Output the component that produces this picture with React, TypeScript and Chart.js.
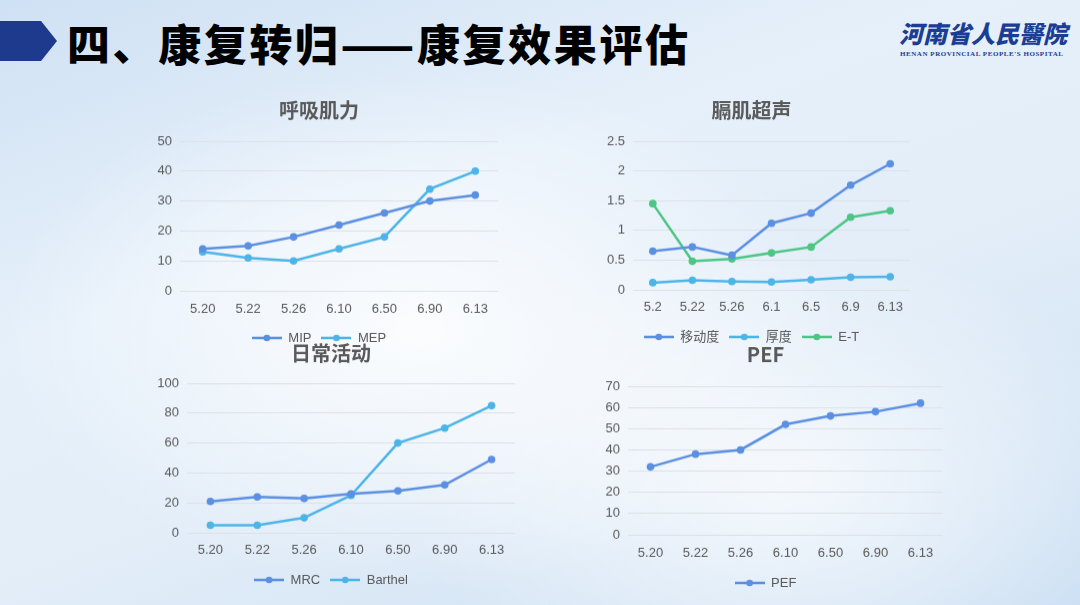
import React, { useEffect, useRef } from "react";
import { Chart, registerables } from "chart.js";

Chart.register(...registerables);

// ---------- data ----------
const datesA = ["5.20", "5.22", "5.26", "6.10", "6.50", "6.90", "6.13"];
const datesB = ["5.2", "5.22", "5.26", "6.1", "6.5", "6.9", "6.13"];

const mipValues = [14, 15, 18, 22, 26, 30, 32];
const mepValues = [13, 11, 10, 14, 18, 34, 40];

const mobilityValues = [0.65, 0.72, 0.58, 1.12, 1.29, 1.76, 2.12];
const thicknessValues = [0.12, 0.16, 0.14, 0.13, 0.17, 0.21, 0.22];
const etValues = [1.45, 0.48, 0.52, 0.62, 0.72, 1.22, 1.33];

const mrcValues = [21, 24, 23, 26, 28, 32, 49];
const barthelValues = [5, 5, 10, 25, 60, 70, 85];

const pefValues = [32, 38, 40, 52, 56, 58, 62];

// ---------- styles ----------
const BLUE = "#5b8fe2";
const CYAN = "#4db4e8";
const GREEN = "#4cc585";
const TEXT = "#595959";
const GRID = "#dde1e6";
const FONT = "'Liberation Sans', 'Noto Sans CJK SC', sans-serif";
const CJK = "'Noto Sans CJK SC', sans-serif";

type Series = { label: string; data: number[]; color: string };
type Spec = {
  title: string;
  labels: string[];
  series: Series[];
  yMax: number;
  yStep: number;
  area: { left: number; top: number; right: number; bottom: number };
  titleY: number;
  xLabelY: number;
  legendY: number;
};

function marker(color: string): HTMLCanvasElement {
  const c = document.createElement("canvas");
  c.width = 30;
  c.height = 10;
  const ctx = c.getContext("2d")!;
  ctx.strokeStyle = color;
  ctx.lineWidth = 2.5;
  ctx.beginPath();
  ctx.moveTo(0, 5);
  ctx.lineTo(30, 5);
  ctx.stroke();
  ctx.fillStyle = color;
  ctx.beginPath();
  ctx.arc(15, 5, 3.3, 0, Math.PI * 2);
  ctx.fill();
  return c;
}

const TITLE_SIZE = 20;

function LineChart({ spec }: { spec: Spec }) {
  const ref = useRef<HTMLCanvasElement>(null);
  const { area } = spec;
  const canvasLeft = area.left - 40;
  const canvasRight = area.right + 12;
  const canvasTop = spec.titleY - 20;
  const padTop = 20 - 0.6 * TITLE_SIZE;
  const padBottom = area.top - canvasTop - padTop - 1.2 * TITLE_SIZE;
  const xH = spec.legendY - area.bottom - 16.5;
  const xPad = spec.xLabelY - area.bottom - 7.8;
  const height = area.bottom - canvasTop + xH + 33;
  const width = canvasRight - canvasLeft;

  useEffect(() => {
    const markers = spec.series.map((s) => marker(s.color));
    const chart = new Chart(ref.current!, {
      type: "line",
      data: {
        labels: spec.labels,
        datasets: spec.series.map((s) => ({
          label: s.label,
          data: s.data,
          borderColor: s.color,
          backgroundColor: s.color,
          pointBackgroundColor: s.color,
          pointBorderColor: s.color,
          borderWidth: 2.5,
          pointRadius: 3.8,
          pointBorderWidth: 0,
          tension: 0,
        })),
      },
      options: {
        animation: false,
        responsive: true,
        maintainAspectRatio: false,
        layout: { padding: { left: 0, right: 12, top: 0, bottom: 0 } },
        plugins: {
          title: {
            display: true,
            text: spec.title,
            color: TEXT,
            font: { family: CJK, size: TITLE_SIZE, weight: "bold" },
            padding: { top: padTop, bottom: padBottom },
          },
          legend: {
            position: "bottom",
            labels: {
              usePointStyle: true,
              pointStyleWidth: 30,
              color: TEXT,
              padding: 10,
              font: { family: FONT, size: 13 },
              generateLabels: (c: any) => {
                const items = (Chart.defaults.plugins.legend.labels as any).generateLabels(c);
                return items.map((it: any, i: number) => ({ ...it, pointStyle: markers[i], fontColor: TEXT }));
              },
            },
          },
          tooltip: { enabled: false },
        },
        scales: {
          x: {
            offset: true,
            grid: { display: false, drawTicks: false },
            border: { display: false },
            ticks: { color: TEXT, font: { family: FONT, size: 13 }, padding: xPad, maxRotation: 0 },
            afterFit: (s: any) => {
              s.height = xH;
            },
          },
          y: {
            min: 0,
            max: spec.yMax,
            grid: { color: GRID, drawTicks: false },
            border: { display: false },
            ticks: {
              color: TEXT,
              font: { family: FONT, size: 13 },
              padding: 8,
              stepSize: spec.yStep,
              callback: (v: any) => String(Number(v)),
            },
            afterFit: (s: any) => {
              s.width = 40;
            },
          },
        },
      },
    } as any);
    return () => chart.destroy();
  }, []);

  return (
    <div style={{ position: "absolute", left: canvasLeft, top: canvasTop, width, height }}>
      <canvas ref={ref} />
    </div>
  );
}

const specs: Spec[] = [
  {
    title: "呼吸肌力",
    labels: datesA,
    series: [
      { label: "MIP", data: mipValues, color: BLUE },
      { label: "MEP", data: mepValues, color: CYAN },
    ],
    yMax: 50,
    yStep: 10,
    area: { left: 180, top: 141, right: 498, bottom: 290 },
    titleY: 110,
    xLabelY: 308,
    legendY: 337,
  },
  {
    title: "膈肌超声",
    labels: datesB,
    series: [
      { label: "移动度", data: mobilityValues, color: BLUE },
      { label: "厚度", data: thicknessValues, color: CYAN },
      { label: "E-T", data: etValues, color: GREEN },
    ],
    yMax: 2.5,
    yStep: 0.5,
    area: { left: 633, top: 141, right: 910, bottom: 289 },
    titleY: 110,
    xLabelY: 306,
    legendY: 336,
  },
  {
    title: "日常活动",
    labels: datesA,
    series: [
      { label: "MRC", data: mrcValues, color: BLUE },
      { label: "Barthel", data: barthelValues, color: CYAN },
    ],
    yMax: 100,
    yStep: 20,
    area: { left: 187, top: 383, right: 515, bottom: 532 },
    titleY: 353,
    xLabelY: 549,
    legendY: 579,
  },
  {
    title: "PEF",
    labels: datesA,
    series: [{ label: "PEF", data: pefValues, color: BLUE }],
    yMax: 70,
    yStep: 10,
    area: { left: 628, top: 386, right: 943, bottom: 534 },
    titleY: 354,
    xLabelY: 552,
    legendY: 582,
  },
];

export default function App() {
  return (
    <div
      style={{
        position: "fixed",
        left: 0,
        top: 0,
        width: 1080,
        height: 605,
        overflow: "hidden",
        background:
          "radial-gradient(ellipse 420px 260px at 420px 330px, rgba(255,255,255,0.85), rgba(255,255,255,0) 100%)," +
          "radial-gradient(ellipse 380px 240px at 780px 480px, rgba(255,255,255,0.75), rgba(255,255,255,0) 100%)," +
          "linear-gradient(160deg, #cfe1f4 0%, #e6f0fa 35%, #e2edf8 60%, #cbdff3 100%)",
      }}
    >
      {/* header arrow */}
      <div
        style={{
          position: "absolute",
          left: 0,
          top: 21,
          width: 57,
          height: 40,
          background: "#1d3a8c",
          clipPath: "polygon(0 0, 72% 0, 100% 50%, 72% 100%, 0 100%)",
        }}
      />
      <div
        style={{
          position: "absolute",
          left: 67,
          top: 15,
          fontFamily: CJK,
          fontWeight: 900,
          fontSize: 43,
          letterSpacing: 2.6,
          lineHeight: "54px",
          color: "#000",
          whiteSpace: "nowrap",
        }}
      >
        四、康复转归——康复效果评估
      </div>
      {/* logo */}
      <div
        style={{
          position: "absolute",
          left: 899,
          top: 17,
          fontFamily: "'Noto Sans CJK TC', sans-serif",
          fontWeight: 900,
          fontStyle: "italic",
          fontSize: 24,
          lineHeight: "32px",
          color: "#1b3d94",
          whiteSpace: "nowrap",
        }}
      >
        河南省人民醫院
      </div>
      <div
        style={{
          position: "absolute",
          left: 900,
          top: 50,
          fontFamily: "'Liberation Serif', serif",
          fontWeight: "bold",
          fontSize: 7,
          letterSpacing: 0.55,
          lineHeight: "9px",
          color: "#1b3d94",
          whiteSpace: "nowrap",
        }}
      >
        HENAN PROVINCIAL PEOPLE'S HOSPITAL
      </div>
      {specs.map((s, i) => (
        <LineChart key={i} spec={s} />
      ))}
    </div>
  );
}
